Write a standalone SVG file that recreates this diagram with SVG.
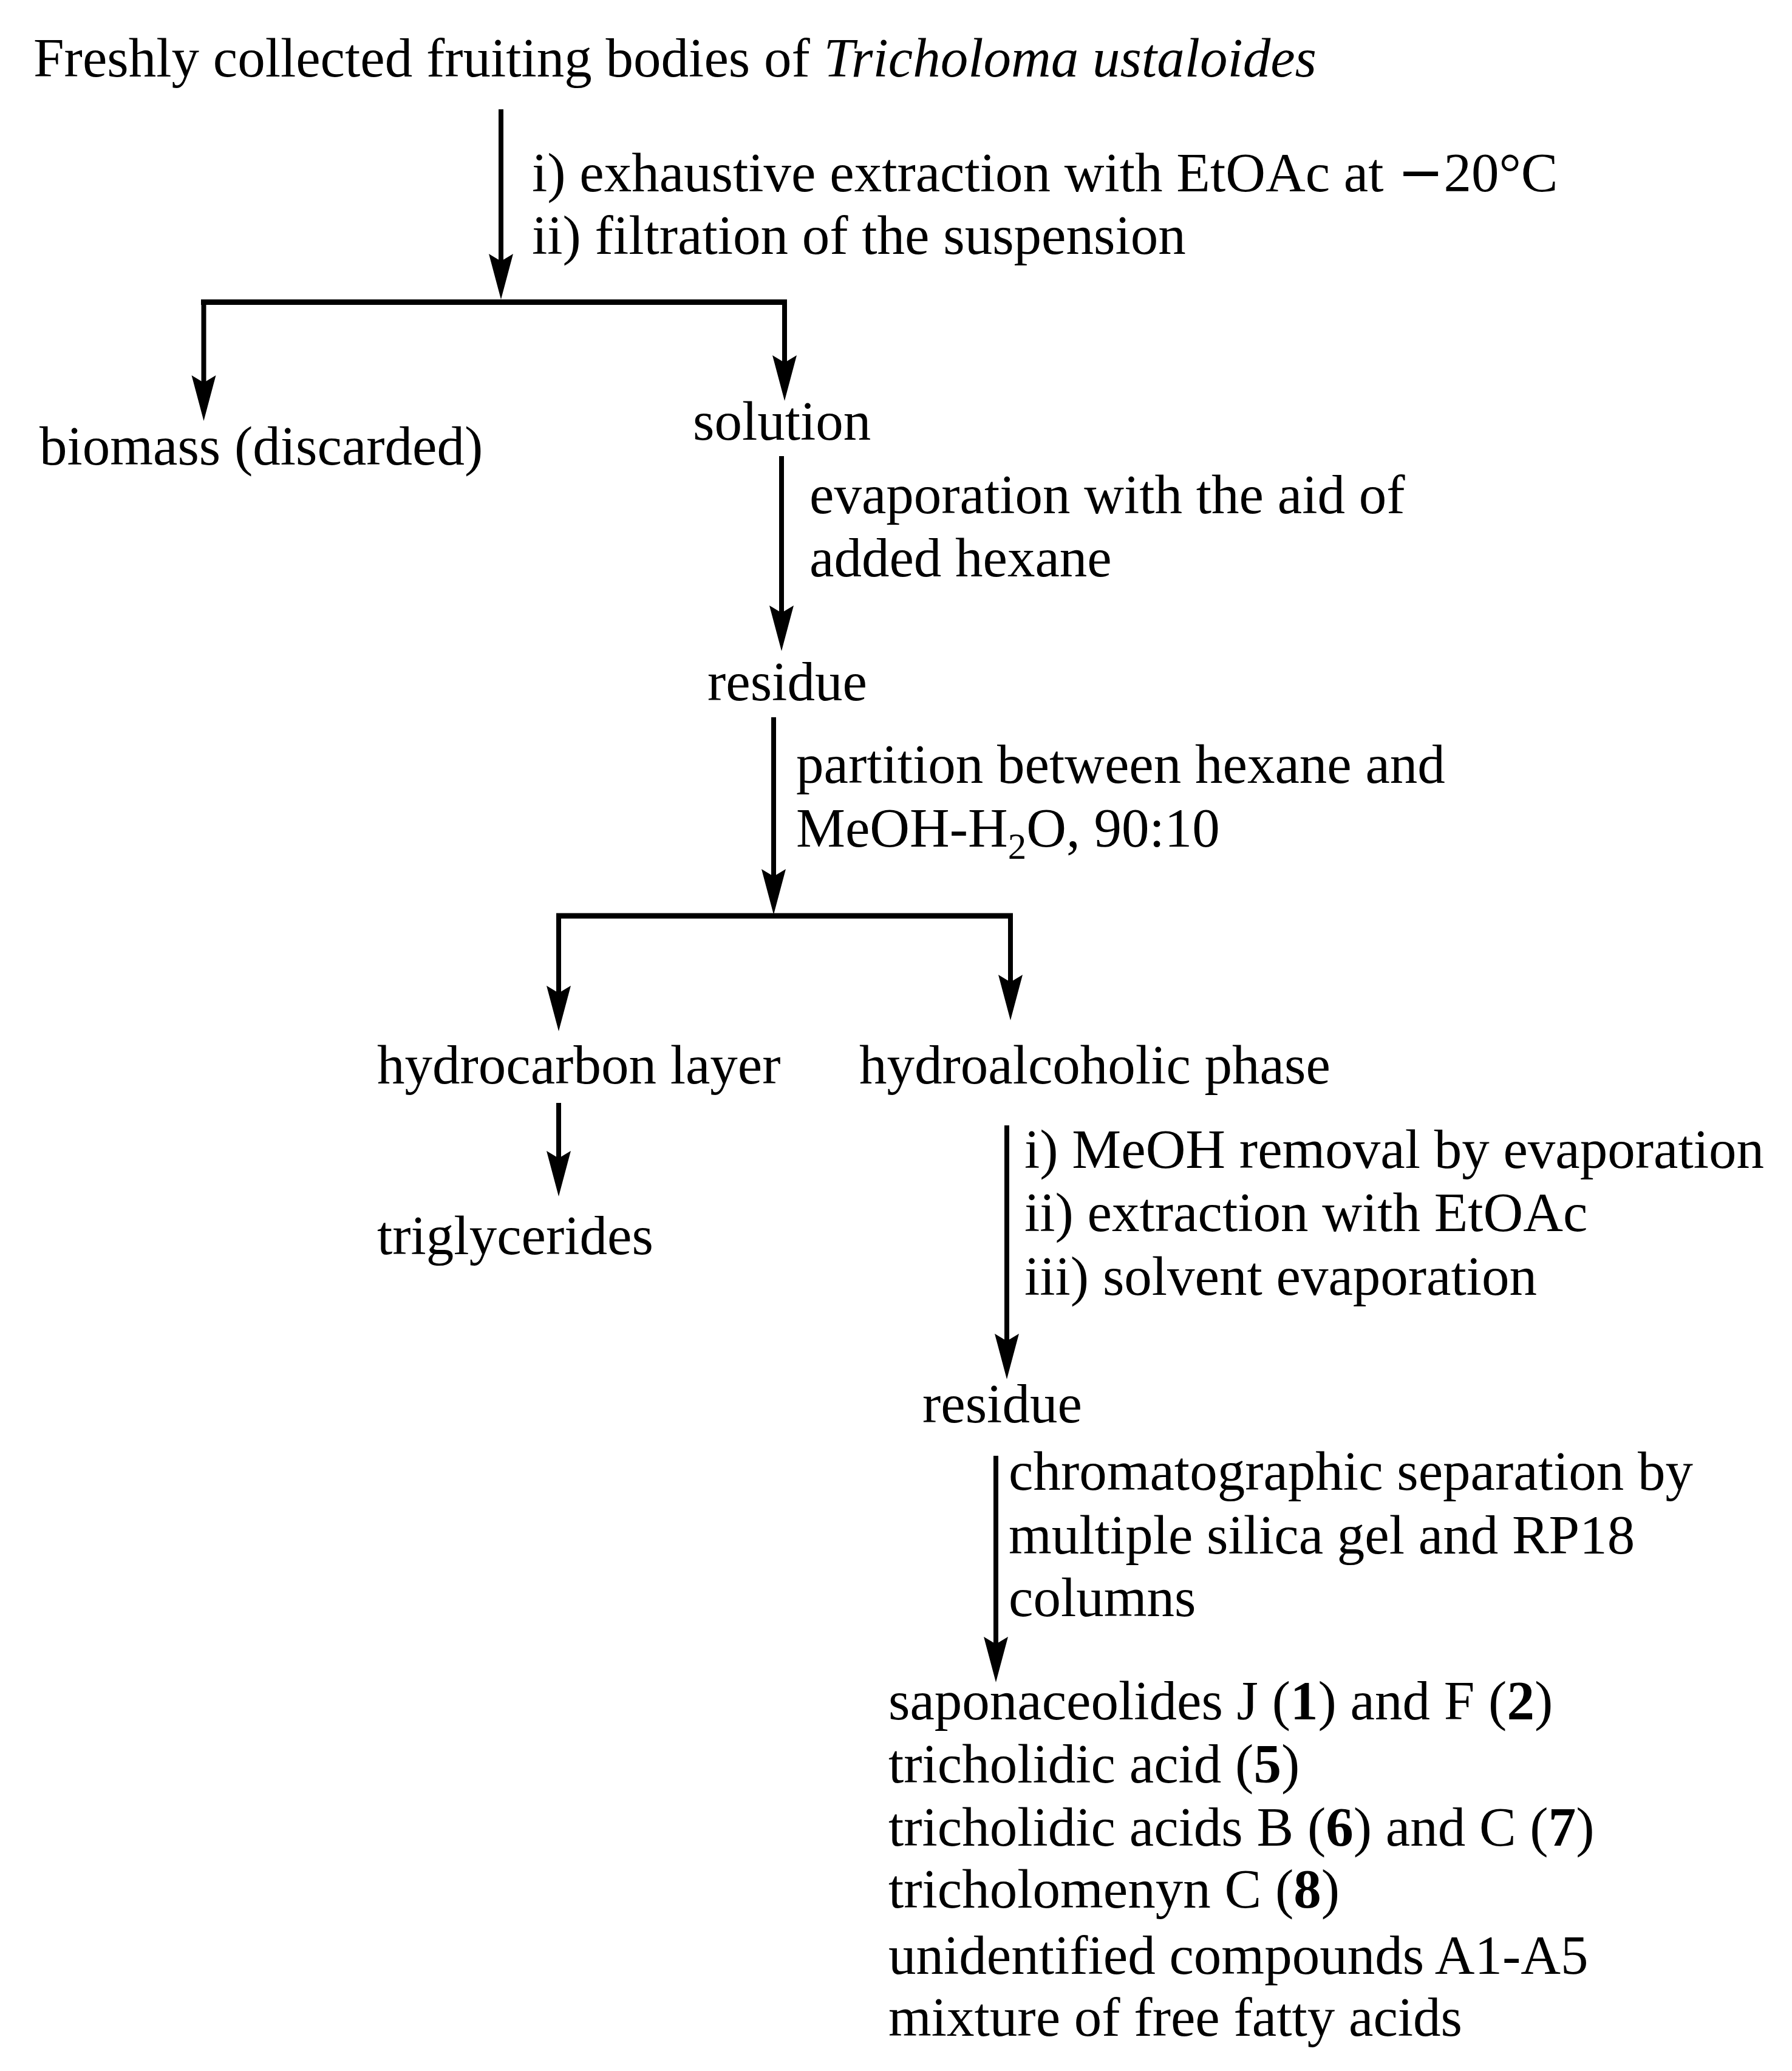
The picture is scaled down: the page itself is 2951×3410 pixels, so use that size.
<svg xmlns="http://www.w3.org/2000/svg" width="2951" height="3410" viewBox="0 0 2951 3410">
<style>
text{font-family:"Liberation Serif","Times New Roman",serif;font-size:91px;fill:#000}
.it{font-style:italic}
.b{font-weight:bold}
.m{font-family:"DejaVu Sans",sans-serif}
.sub{font-size:61px}
.stem{stroke:#000;stroke-width:8;fill:none}
.bar{stroke:#000;stroke-width:9;fill:none}
</style>
<defs>
<marker id="ah" markerUnits="userSpaceOnUse" orient="auto" refX="14" refY="0" markerWidth="80" markerHeight="50" viewBox="0 -25 80 50" overflow="visible">
<path d="M0,-20 L75,0 L0,20 L12,0 Z" fill="#000"/>
</marker>
</defs>
<rect width="2951" height="3410" fill="#fff"/>
<g id="connectors">
<line class="stem" x1="825" y1="180" x2="825" y2="432" marker-end="url(#ah)"/>
<line class="bar" x1="331" y1="497.5" x2="1296" y2="497.5"/>
<line class="stem" x1="335.5" y1="497" x2="335.5" y2="632" marker-end="url(#ah)"/>
<line class="stem" x1="1292" y1="497" x2="1292" y2="599" marker-end="url(#ah)"/>
<line class="stem" x1="1287" y1="751" x2="1287" y2="1011" marker-end="url(#ah)"/>
<line class="stem" x1="1274" y1="1181" x2="1274" y2="1445" marker-end="url(#ah)"/>
<line class="bar" x1="916" y1="1508" x2="1668" y2="1508"/>
<line class="stem" x1="920" y1="1508" x2="920" y2="1637" marker-end="url(#ah)"/>
<line class="stem" x1="1664" y1="1508" x2="1664" y2="1619" marker-end="url(#ah)"/>
<line class="stem" x1="920" y1="1816" x2="920" y2="1909" marker-end="url(#ah)"/>
<line class="stem" x1="1658" y1="1853" x2="1658" y2="2210" marker-end="url(#ah)"/>
<line class="stem" x1="1640" y1="2397" x2="1640" y2="2709" marker-end="url(#ah)"/>
</g>
<g id="n-start"><text x="55" y="126">Freshly collected fruiting bodies of <tspan class="it">Tricholoma ustaloides</tspan></text></g>
<g id="l-extraction"><text x="876" y="315">i) exhaustive extraction with EtOAc at <tspan class="m">−</tspan>20°C</text><text x="876" y="418">ii) filtration of the suspension</text></g>
<g id="n-biomass"><text x="65" y="765">biomass (discarded)</text></g>
<g id="n-solution"><text x="1141" y="724">solution</text></g>
<g id="l-evaporation"><text x="1333" y="845">evaporation with the aid of</text><text x="1333" y="949">added hexane</text></g>
<g id="n-residue1"><text x="1165" y="1153">residue</text></g>
<g id="l-partition"><text x="1311" y="1289">partition between hexane and</text><text x="1311" y="1394">MeOH-H<tspan class="sub" dy="20">2</tspan><tspan dy="-20">O, 90:10</tspan></text></g>
<g id="n-hydrocarbon"><text x="621" y="1784">hydrocarbon layer</text></g>
<g id="n-hydroalcoholic"><text x="1415" y="1784">hydroalcoholic phase</text></g>
<g id="n-triglycerides"><text x="621" y="2065">triglycerides</text></g>
<g id="l-workup"><text x="1687" y="1923">i) MeOH removal by evaporation</text><text x="1687" y="2027">ii) extraction with EtOAc</text><text x="1687" y="2132">iii) solvent evaporation</text></g>
<g id="n-residue2"><text x="1519" y="2342">residue</text></g>
<g id="l-chromatography"><text x="1661" y="2453">chromatographic separation by</text><text x="1661" y="2558">multiple silica gel and RP18</text><text x="1661" y="2661">columns</text></g>
<g id="n-products">
<text x="1463" y="2831">saponaceolides J (<tspan class="b">1</tspan>) and F (<tspan class="b">2</tspan>)</text>
<text x="1463" y="2935">tricholidic acid (<tspan class="b">5</tspan>)</text>
<text x="1463" y="3039">tricholidic acids B (<tspan class="b">6</tspan>) and C (<tspan class="b">7</tspan>)</text>
<text x="1463" y="3141">tricholomenyn C (<tspan class="b">8</tspan>)</text>
<text x="1463" y="3250">unidentified compounds A1-A5</text>
<text x="1463" y="3352">mixture of free fatty acids</text>
</g>
</svg>
